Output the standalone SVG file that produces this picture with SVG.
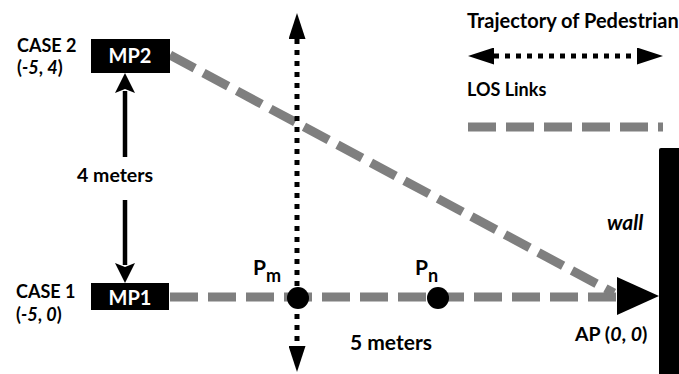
<svg xmlns="http://www.w3.org/2000/svg" width="679" height="374" viewBox="0 0 679 374">
  <style>
    text { font-family: Lato, "Open Sans", "Liberation Sans", sans-serif; font-weight: bold; font-size: 18px; fill: #000; }
    .mp { fill: #fff; text-anchor: middle; font-size: 20px; }
    .it { font-style: italic; }
    .los { fill: none; stroke: #7f7f7f; stroke-width: 9; stroke-dasharray: 28 10; }
    .traj { fill: none; stroke: #000; stroke-width: 5; stroke-dasharray: 5 6; }
    .dist { fill: none; stroke: #000; stroke-width: 4.5; }
  </style>
  <defs>
    <marker id="headSolid" viewBox="0 0 26 17" refX="0" refY="8.5" markerWidth="26" markerHeight="17" markerUnits="userSpaceOnUse" orient="auto-start-reverse">
      <path d="M0,0 L26,8.5 L0,17 Z" fill="#000"/>
    </marker>
    <marker id="headNotch" viewBox="0 0 20 20" refX="2" refY="10" markerWidth="20" markerHeight="20" markerUnits="userSpaceOnUse" orient="auto">
      <path d="M0,0 L20,10 L0,20 L4,10 Z" fill="#000"/>
    </marker>
  </defs>

  <!-- links and movement paths -->
  <g id="connectors">
    <path class="los" d="M170,297 L617,297"/>
    <path class="los" d="M170,55 L614,293"/>
    <path class="traj" d="M297,39 L297,346" marker-start="url(#headSolid)" marker-end="url(#headSolid)"/>
    <path class="dist" d="M125,157 L125,91" marker-end="url(#headNotch)"/>
    <path class="dist" d="M125,200 L125,265" marker-end="url(#headNotch)"/>
  </g>

  <g id="mp2">
    <rect x="91" y="39" width="79" height="34" fill="#000"/>
    <text class="mp" x="130" y="63">MP2</text>
  </g>
  <g id="mp1">
    <rect x="91" y="283" width="78" height="27" fill="#000"/>
    <text class="mp" x="130" y="305">MP1</text>
  </g>

  <g id="case2">
    <text x="17" y="52">CASE 2</text>
    <text x="17" y="74">(<tspan class="it">-5</tspan>, <tspan class="it">4</tspan>)</text>
  </g>
  <g id="case1">
    <text x="16" y="298">CASE 1</text>
    <text x="16" y="321">(<tspan class="it">-5</tspan>, <tspan class="it">0</tspan>)</text>
  </g>

  <g id="dist4">
    <text x="77" y="182" style="font-size:19.5px">4 meters</text>
  </g>
  <g id="dist5">
    <text x="350" y="350" style="font-size:21px">5 meters</text>
  </g>

  <g id="pm">
    <circle cx="298" cy="298" r="11" fill="#000"/>
    <text x="253" y="275" style="font-size:21px">P<tspan style="font-size:18px" dy="7">m</tspan></text>
  </g>
  <g id="pn">
    <circle cx="438" cy="298" r="11" fill="#000"/>
    <text x="415" y="275" style="font-size:21px">P<tspan style="font-size:18px" dy="7">n</tspan></text>
  </g>

  <g id="ap">
    <path d="M617,277 L659,296 L617,315 Z" fill="#000"/>
    <text x="575" y="341" style="font-size:19.5px">AP (<tspan class="it">0</tspan>, <tspan class="it">0</tspan>)</text>
  </g>

  <g id="wall">
    <rect x="659" y="148" width="22" height="228" rx="2" fill="#000"/>
    <text class="it" x="607" y="230" style="font-size:21px">wall</text>
  </g>

  <g id="legend">
    <text x="467" y="28" style="font-size:20px">Trajectory of Pedestrian</text>
    <path class="traj" d="M494,56 L637,56" marker-start="url(#headSolid)" marker-end="url(#headSolid)"/>
    <text x="467" y="96">LOS Links</text>
    <path class="los" d="M468,127 L663,127"/>
  </g>
</svg>
